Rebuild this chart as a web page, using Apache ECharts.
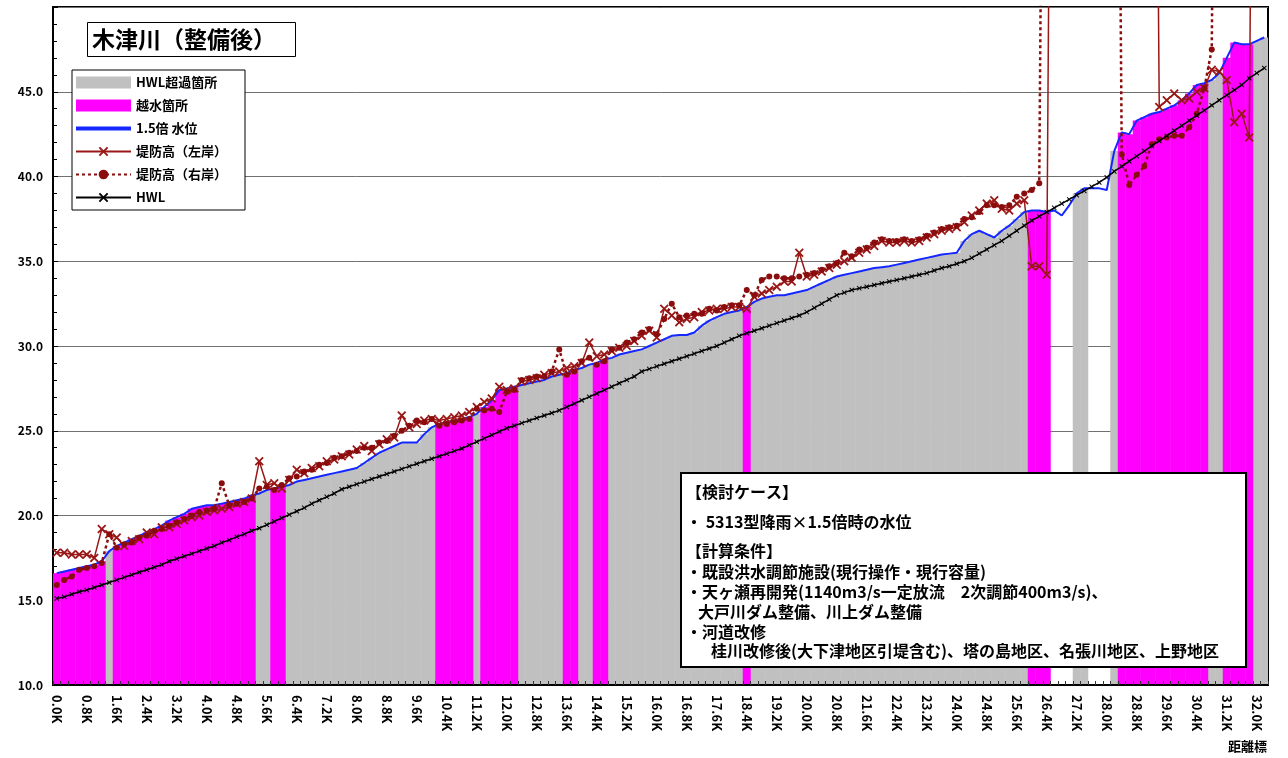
<!DOCTYPE html>
<html>
<head>
<meta charset="utf-8">
<script src="https://cdn.jsdelivr.net/npm/echarts@6/dist/echarts.min.js"></script>
<style>
html,body{margin:0;padding:0;background:#fff;}
#chart{width:1288px;height:758px;}
</style>
</head>
<body>
<div id="chart"></div>
<script>
// ---- categories (distance markers, 0.2K step) ----
const categories = [
"0.0K","0.2K","0.4K","0.6K","0.8K","1.0K","1.2K","1.4K","1.6K","1.8K",
"2.0K","2.2K","2.4K","2.6K","2.8K","3.0K","3.2K","3.4K","3.6K","3.8K",
"4.0K","4.2K","4.4K","4.6K","4.8K","5.0K","5.2K","5.4K","5.6K","5.8K",
"6.0K","6.2K","6.4K","6.6K","6.8K","7.0K","7.2K","7.4K","7.6K","7.8K",
"8.0K","8.2K","8.4K","8.6K","8.8K","9.0K","9.2K","9.4K","9.6K","9.8K",
"10.0K","10.2K","10.4K","10.6K","10.8K","11.0K","11.2K","11.4K","11.6K","11.8K",
"12.0K","12.2K","12.4K","12.6K","12.8K","13.0K","13.2K","13.4K","13.6K","13.8K",
"14.0K","14.2K","14.4K","14.6K","14.8K","15.0K","15.2K","15.4K","15.6K","15.8K",
"16.0K","16.2K","16.4K","16.6K","16.8K","17.0K","17.2K","17.4K","17.6K","17.8K",
"18.0K","18.2K","18.4K","18.6K","18.8K","19.0K","19.2K","19.4K","19.6K","19.8K",
"20.0K","20.2K","20.4K","20.6K","20.8K","21.0K","21.2K","21.4K","21.6K","21.8K",
"22.0K","22.2K","22.4K","22.6K","22.8K","23.0K","23.2K","23.4K","23.6K","23.8K",
"24.0K","24.2K","24.4K","24.6K","24.8K","25.0K","25.2K","25.4K","25.6K","25.8K",
"26.0K","26.2K","26.4K","26.6K","26.8K","27.0K","27.2K","27.4K","27.6K","27.8K",
"28.0K","28.2K","28.4K","28.6K","28.8K","29.0K","29.2K","29.4K","29.6K","29.8K",
"30.0K","30.2K","30.4K","30.6K","30.8K","31.0K","31.2K","31.4K","31.6K","31.8K",
"32.0K","32.2K"
];

// ---- 1.5x water level ----
const waterLevel = [
16.6,16.7,16.8,16.9,17.0,17.1,17.3,17.9,18.2,18.4,
18.6,18.8,19.0,19.2,19.4,19.7,19.9,20.1,20.4,20.5,
20.6,20.6,20.7,20.8,20.9,21.0,21.2,21.3,21.5,21.6,
21.7,21.8,22.0,22.1,22.2,22.3,22.4,22.5,22.6,22.7,
22.8,23.1,23.4,23.7,23.9,24.1,24.3,24.3,24.3,24.8,
25.2,25.4,25.5,25.6,25.7,25.8,26.0,26.4,26.8,27.4,
27.5,27.6,27.7,27.8,27.9,28.0,28.2,28.3,28.4,28.6,
28.7,28.9,29.0,29.2,29.3,29.5,29.6,29.7,29.8,30.0,
30.2,30.4,30.6,30.65,30.65,30.8,31.2,31.5,31.7,31.9,
32.0,32.1,32.3,32.6,32.8,32.9,33.0,33.0,33.1,33.2,
33.3,33.5,33.7,33.9,34.1,34.2,34.3,34.4,34.5,34.6,
34.65,34.7,34.8,34.9,35.0,35.1,35.2,35.3,35.4,35.45,
35.5,36.2,36.6,36.8,36.6,36.4,36.8,37.1,37.5,37.9,
38.0,38.0,37.9,38.0,37.7,38.3,39.0,39.3,39.3,39.3,
39.2,41.5,42.6,42.5,43.3,43.5,43.7,43.8,44.0,44.2,
44.5,44.9,45.4,45.5,45.7,46.1,47.0,47.9,47.8,47.8,
48.0,48.2
];

// ---- HWL ----
const hwl = [
15.1,15.2,15.35,15.5,15.6,15.75,15.9,16.05,16.2,16.35,
16.5,16.65,16.8,16.95,17.1,17.3,17.45,17.6,17.75,17.9,
18.05,18.2,18.4,18.55,18.75,18.9,19.1,19.25,19.45,19.65,
19.85,20.05,20.25,20.45,20.7,20.9,21.1,21.3,21.55,21.7,
21.85,22.0,22.15,22.3,22.45,22.6,22.75,22.9,23.05,23.2,
23.35,23.5,23.65,23.8,23.95,24.15,24.35,24.55,24.75,24.95,
25.15,25.3,25.45,25.6,25.75,25.9,26.05,26.2,26.4,26.6,
26.8,27.0,27.2,27.4,27.6,27.8,28.0,28.2,28.5,28.65,
28.8,28.95,29.1,29.25,29.4,29.55,29.7,29.85,30.0,30.2,
30.4,30.6,30.75,30.9,31.05,31.2,31.35,31.5,31.65,31.8,
32.0,32.25,32.5,32.75,33.0,33.15,33.3,33.4,33.5,33.6,
33.7,33.8,33.9,34.0,34.1,34.2,34.3,34.45,34.6,34.7,
34.85,35.0,35.2,35.45,35.7,35.95,36.2,36.5,36.8,37.1,
37.4,37.65,37.9,38.15,38.4,38.65,38.9,39.15,39.4,39.65,
39.95,40.3,40.6,40.9,41.2,41.5,41.8,42.1,42.4,42.7,
43.0,43.3,43.6,43.9,44.2,44.5,44.8,45.1,45.4,45.8,
46.1,46.4
];

// ---- levee crown height, left bank (99 = off the top of the chart) ----
const leveeLeft = [
17.8,17.8,17.7,17.7,17.7,17.5,19.2,18.9,18.7,18.2,
18.5,18.6,19.0,18.9,19.3,19.3,19.5,19.7,19.9,20.0,
20.2,20.3,20.4,20.5,20.7,20.8,21.0,23.2,21.8,21.9,
21.6,22.1,22.7,22.5,22.8,22.9,23.2,23.3,23.5,23.6,
23.9,24.1,23.8,24.2,24.5,24.6,25.9,25.2,25.4,25.6,
25.7,25.6,25.7,25.8,25.9,26.1,26.4,26.7,26.9,27.6,
27.4,27.5,27.9,28.0,28.1,28.3,28.4,28.5,28.7,28.8,
29.0,30.2,29.4,29.5,29.7,29.9,30.0,30.3,30.6,30.9,
30.5,32.2,31.8,31.4,31.6,31.7,32.0,32.1,32.2,32.2,
32.3,32.3,32.2,32.9,33.1,33.3,33.5,33.8,33.8,35.5,
34.1,34.2,34.4,34.6,34.8,35.0,35.2,35.5,35.7,35.9,
36.2,36.1,36.1,36.2,36.1,36.2,36.4,36.6,36.8,36.9,
37.0,37.3,37.7,38.0,38.4,38.6,38.1,38.0,38.4,38.6,
34.7,34.7,34.2,99,99,99,99,99,99,99,
99,99,99,99,99,99,99,44.1,44.5,44.9,
44.5,44.6,45.0,45.2,46.3,46.2,45.7,43.2,43.7,42.3,
99,99
];

// ---- levee crown height, right bank (99 = off the top of the chart) ----
const leveeRight = [
15.9,16.2,16.4,16.8,16.9,17.0,17.2,18.9,18.1,18.3,
18.4,18.7,18.8,19.1,19.2,19.4,19.6,19.8,20.0,20.2,
20.3,20.4,21.9,20.6,20.7,20.8,21.0,21.6,21.7,21.5,
21.8,22.2,22.3,22.6,22.7,23.0,23.1,23.4,23.5,23.7,
23.8,24.0,24.0,24.3,24.4,24.7,25.0,25.3,25.6,25.5,
25.7,25.3,25.4,25.5,25.6,25.7,26.3,26.2,26.3,26.1,
27.3,27.4,28.0,28.1,28.2,28.2,28.5,29.8,28.3,28.5,
29.1,29.3,28.9,29.1,29.8,29.9,30.2,30.4,30.8,31.0,
30.7,31.6,32.5,31.7,31.8,31.9,31.9,32.2,32.1,32.3,
32.4,32.4,33.3,33.0,33.9,34.1,34.1,34.0,34.0,34.1,
34.2,34.3,34.5,34.7,34.9,35.5,35.3,35.7,35.8,36.1,
36.3,36.2,36.2,36.3,36.2,36.3,36.5,36.7,36.9,37.0,
37.1,37.5,37.6,37.9,38.3,38.3,38.2,38.3,38.8,39.0,
39.2,39.6,99,99,99,99,99,99,99,99,
99,99,41.3,39.5,40.1,40.6,41.9,42.2,42.3,42.4,
42.4,42.9,43.7,45.2,47.5,99,99,99,99,99,
99,99
];

// ---- zones along the river: G = HWL exceeded, M = overflow, - = none (run lengths) ----
const zoneRuns = [
["M",7],["G",1],["M",19],["G",2],["M",2],["G",20],["M",5],["G",1],["M",5],["G",6],
["M",2],["G",2],["M",2],["G",18],["M",1],["G",37],["M",3],["-",3],["G",2],["-",3],
["G",1],["M",12],["G",2],["M",4],["G",2]
];

const yTicks = [10, 15, 20, 25, 30, 35, 40, 45];

const noteLines = [
"【検討ケース】",
"・ 5313型降雨×1.5倍時の水位",
"【計算条件】",
"・既設洪水調節施設(現行操作・現行容量)",
"・天ヶ瀬再開発(1140m3/s一定放流　2次調節400m3/s)、",
"大戸川ダム整備、川上ダム整備",
"・河道改修",
"桂川改修後(大下津地区引堤含む)、塔の島地区、名張川地区、上野地区"
];

// ---- build bar data from zones ----
const zones = [];
zoneRuns.forEach(function (r) { for (let i = 0; i < r[1]; i++) zones.push(r[0]); });
const grayData = waterLevel.map(function (v, i) { return zones[i] === "G" ? v : null; });
const magentaData = waterLevel.map(function (v, i) { return zones[i] === "M" ? v : null; });

const FONT = '"Noto Sans CJK JP", "Noto Sans", sans-serif';
const XPATH = 'path://M0,1.4L1.4,0L5,3.6L8.6,0L10,1.4L6.4,5L10,8.6L8.6,10L5,6.4L1.4,10L0,8.6L3.6,5Z';
const RED = '#9a1717';

const noteX = [686, 686, 686, 686, 686, 698, 686, 711];
const noteY = [492, 522, 551, 572, 592, 612, 632, 651];
const graphics = [{
  type: 'rect', z: 100,
  shape: { x: 681, y: 473, width: 565, height: 194 },
  style: { fill: '#fff', stroke: '#000', lineWidth: 2 }
}];
noteLines.forEach(function (t, i) {
  graphics.push({
    type: 'text', z: 101, x: noteX[i], y: noteY[i],
    style: { text: t, fontSize: 16, fontWeight: 'bold', fontFamily: FONT, fill: '#000', verticalAlign: 'middle' }
  });
});
graphics.push({
  type: 'text', z: 101, x: 1228, y: 746,
  style: { text: '距離標', fontSize: 13, fontWeight: 'bold', fontFamily: FONT, fill: '#000', verticalAlign: 'middle' }
});

const chart = echarts.init(document.getElementById('chart'));
chart.setOption({
  animation: false,
  backgroundColor: '#fff',
  title: {
    text: '木津川（整備後）',
    left: 87, top: 22, z: 50,
    padding: [6, 20, 6, 5],
    backgroundColor: '#fff', borderColor: '#000', borderWidth: 1,
    textStyle: { fontSize: 23, fontWeight: 'bold', fontFamily: FONT, color: '#000' }
  },
  legend: {
    left: 72, top: 70, z: 50,
    orient: 'vertical',
    itemWidth: 55, itemHeight: 12, itemGap: 10,
    padding: [6, 18, 6, 3],
    backgroundColor: '#fff', borderColor: '#000', borderWidth: 1,
    textStyle: { fontSize: 13, fontWeight: 'bold', fontFamily: FONT, color: '#000' },
    data: [
      { name: 'HWL超過箇所', icon: 'rect' },
      { name: '越水箇所', icon: 'rect' },
      { name: '1.5倍 水位', icon: 'path://M0,0L55,0L55,4L0,4Z' },
      '堤防高（左岸）', '堤防高（右岸）', 'HWL'
    ]
  },
  grid: {
    left: 53, right: 20, top: 7, bottom: 73,
    show: true, borderColor: '#000', borderWidth: 2, backgroundColor: 'transparent'
  },
  xAxis: {
    type: 'category', data: categories, boundaryGap: true, z: 10,
    axisLine: { show: true, lineStyle: { color: '#000', width: 2 } },
    axisTick: { show: true, inside: true, interval: 0, length: 4, lineStyle: { color: '#333' } },
    axisLabel: { interval: 3, rotate: -90, margin: 10, fontSize: 13, fontWeight: 'bold', fontFamily: FONT, color: '#000' },
    splitLine: { show: false }
  },
  yAxis: {
    type: 'value', min: yTicks[0], max: 50, interval: 5,
    axisLine: { show: true, lineStyle: { color: '#000', width: 2 } },
    axisTick: { show: true, inside: true, length: 5, lineStyle: { color: '#000' } },
    minorTick: { show: true, splitNumber: 5, length: 4, lineStyle: { color: '#000' } },
    axisLabel: { showMaxLabel: false, margin: 10, fontSize: 12, fontWeight: 'bold', fontFamily: FONT, color: '#000',
      formatter: function (v) { return v.toFixed(1); } },
    splitLine: { show: true, lineStyle: { color: '#707070', width: 1 } }
  },
  series: [
    { name: 'HWL超過箇所', type: 'bar', data: grayData, barWidth: 8, barGap: '-100%', z: 1,
      itemStyle: { color: '#c0c0c0' } },
    { name: '越水箇所', type: 'bar', data: magentaData, barWidth: 8, barGap: '-100%', z: 1,
      itemStyle: { color: '#ff00ff' } },
    { name: '1.5倍 水位', type: 'line', data: waterLevel, symbol: 'none', z: 3,
      lineStyle: { color: '#1428ff', width: 2 }, itemStyle: { color: '#1428ff' } },
    { name: '堤防高（左岸）', type: 'line', data: leveeLeft, symbol: XPATH, symbolSize: 9, showAllSymbol: true, z: 4,
      lineStyle: { color: RED, width: 1.5 }, itemStyle: { color: RED } },
    { name: '堤防高（右岸）', type: 'line', data: leveeRight, symbol: 'circle', symbolSize: 6, showAllSymbol: true, z: 4,
      lineStyle: { color: '#8a0c0c', width: 2.5, type: [3, 3] }, itemStyle: { color: '#8a0c0c' } },
    { name: 'HWL', type: 'line', data: hwl, symbol: XPATH, symbolSize: 5, showAllSymbol: true, z: 5,
      lineStyle: { color: '#000', width: 1.5 }, itemStyle: { color: '#000' } }
  ],
  graphic: graphics
});
</script>
</body>
</html>
